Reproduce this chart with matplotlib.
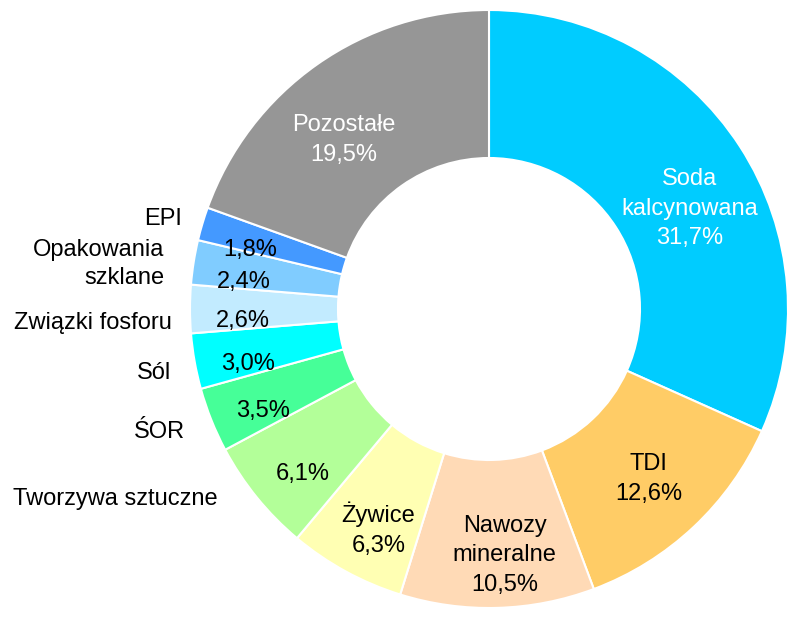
import numpy as np
import matplotlib
matplotlib.use("Agg")
import matplotlib.pyplot as plt

plt.rcParams['font.family'] = ['Liberation Sans', 'DejaVu Sans']

# udzialy segmentow (zgodnie z ruchem wskazowek zegara od gory)
categories = ["Soda\nkalcynowana", "TDI", "Nawozy\nmineralne", "Żywice",
              "Tworzywa sztuczne", "ŚOR", "Sól", "Związki fosforu",
              "Opakowania\nszklane", "EPI", "Pozostałe"]
values = [31.7, 12.6, 10.5, 6.3, 6.1, 3.5, 3.0, 2.6, 2.4, 1.8, 19.5]
colors = ["#00CCFF", "#FFCC66", "#FFDAB6", "#FFFFB3", "#B3FF99", "#46FF98",
          "#00FFFF", "#C2EBFF", "#80CCFF", "#4499FF", "#969696"]
# etykiety kategorii wewnatrz pierscienia czy na zewnatrz
inside = [True, True, True, True, False, False, False, False, False, False, True]

W, H = 787, 617
fig = plt.figure(figsize=(W / 100, H / 100), dpi=100)
ax = fig.add_axes([0, 0, 1, 1])

cx, cy = 489, H - 309
R = 299
ring = 148

wedges, _ = ax.pie(values, colors=colors, startangle=90, counterclock=False,
                   radius=R, center=(cx, cy),
                   wedgeprops=dict(width=ring, edgecolor="white", linewidth=1.5))
ax.set_xlim(0, W)
ax.set_ylim(0, H)
ax.set_aspect("equal")
ax.axis("off")

# korekty polozenia etykiet wewnetrznych (stopnie, ulamek promienia)
tweak = {0: (-6.4, 0.75), 1: (0, 0.78), 10: (5.5, 0.745)}
# przesuniecia etykiet zewnetrznych wzgledem krawedzi (px w prawo, px w dol)
outer_off = {4: (-39, 2), 5: (-26, 12), 6: (-23, 12), 7: (-18, 14),
             8: (-29, 2), 9: (-20, -5)}

for i, w in enumerate(wedges):
    mid = (w.theta1 + w.theta2) / 2.0
    da, rf = tweak.get(i, (2, 0.825))
    a = np.deg2rad(mid + da)
    x = cx + R * rf * np.cos(a)
    y = cy + R * rf * np.sin(a)
    pct = ("%.1f%%" % values[i]).replace(".", ",")
    tcol = "white" if i in (0, 10) else "black"
    if inside[i]:
        ax.text(x, y, categories[i] + "\n" + pct, ha="center", va="center",
                fontsize=17, color=tcol, linespacing=1.45)
    else:
        ax.text(x, y - 3, pct, ha="center", va="center", fontsize=17, color=tcol)
        a0 = np.deg2rad(mid)
        dx, dy = outer_off[i]
        ox = cx + R * np.cos(a0) + dx
        oy = cy + R * np.sin(a0) - dy
        ax.text(ox, oy, categories[i], ha="right", va="center",
                fontsize=17, color="black", linespacing=1.35)

fig.savefig("out.png", dpi=100)
